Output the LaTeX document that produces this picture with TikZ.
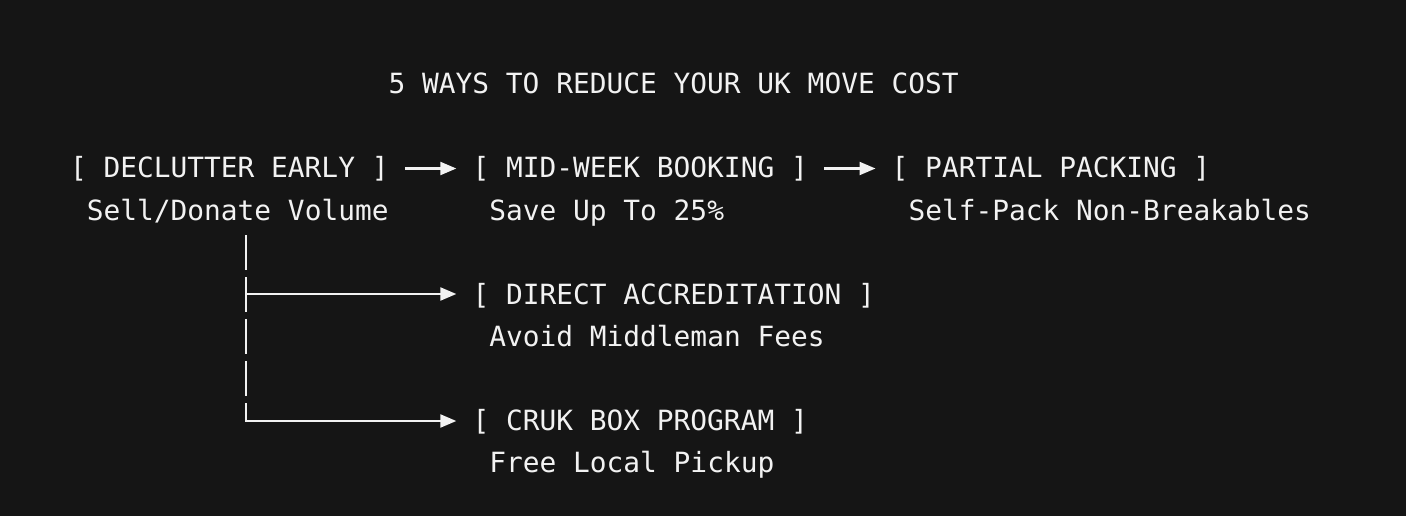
\documentclass[tikz,border=0pt]{standalone}
\usepackage{fontspec}
\setmonofont{DejaVu Sans Mono}
\usetikzlibrary{arrows.meta}
\definecolor{bg}{HTML}{151515}
\definecolor{fg}{HTML}{F2F2F2}
\begin{document}
\begin{tikzpicture}[x=1pt,y=1pt,
  txt/.style={anchor=base west, inner sep=0pt, outer sep=0pt, text=fg,
    font=\ttfamily\fontsize{27.85pt}{30pt}\selectfont},
  conn/.style={draw=fg, line width=2.2pt},
  arr/.style={conn, -{Triangle[length=16pt,width=13pt]}}]
\fill[bg] (0,0) rectangle (1406,-516);
\useasboundingbox (0,0) rectangle (1406,-516);
% columns: x = 70 + 16.77*c
\node[txt] (title) at (388.6,-94) {5 WAYS TO REDUCE YOUR UK MOVE COST};
\node[txt] (decl) at (70,-178) {[ DECLUTTER EARLY ]};
\node[txt] (sell) at (86.8,-220) {Sell/Donate Volume};
\node[txt] (mid) at (472.5,-178) {[ MID-WEEK BOOKING ]};
\node[txt] (save) at (489.3,-220) {Save Up To 25\%};
\node[txt] (part) at (891.7,-178) {[ PARTIAL PACKING ]};
\node[txt] (self) at (908.5,-220) {Self-Pack Non-Breakables};
\node[txt] (direct) at (472.5,-304) {[ DIRECT ACCREDITATION ]};
\node[txt] (avoid) at (489.3,-346) {Avoid Middleman Fees};
\node[txt] (cruk) at (472.5,-430) {[ CRUK BOX PROGRAM ]};
\node[txt] (free) at (489.3,-472) {Free Local Pickup};
% row arrows
\draw[arr] ([shift={(16.2,9.5)}]decl.base east) -- ([shift={(-16.2,9.5)}]mid.base west);
\draw[arr] ([shift={(16.2,9.5)}]mid.base east) -- ([shift={(-16.2,9.5)}]part.base west);
% tree
\coordinate (trunk) at (246.1,-235);
\coordinate (dirA) at ([shift={(-16.2,10)}]direct.base west);
\coordinate (crukA) at ([shift={(-16.2,9)}]cruk.base west);
\draw[conn, dash pattern=on 35pt off 7pt] (trunk) -- ([yshift=-1.1pt]trunk |- crukA);
\draw[arr] ([xshift=-1.1pt]trunk |- dirA) -- (dirA);
\draw[arr] ([xshift=-1.1pt]trunk |- crukA) -- (crukA);
\end{tikzpicture}
\end{document}
